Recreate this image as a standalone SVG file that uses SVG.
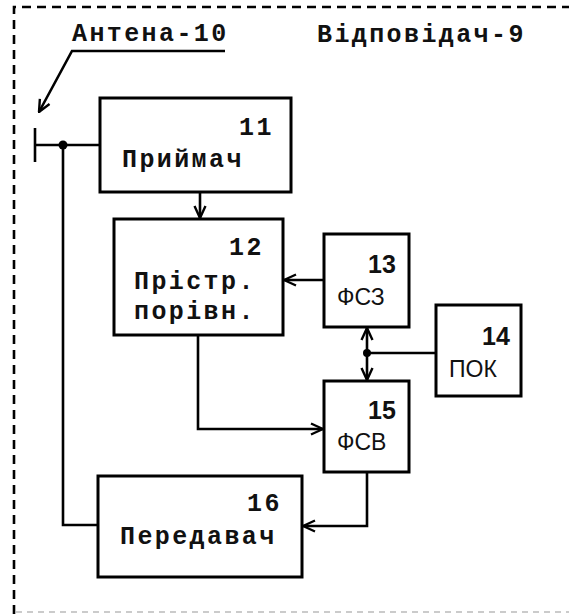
<svg xmlns="http://www.w3.org/2000/svg" width="569" height="614" viewBox="0 0 569 614">
<style>
.box{fill:#fff;stroke:#000;stroke-width:3}
.ln{fill:none;stroke:#000;stroke-width:2.6}
.mono{font-family:"Liberation Mono","DejaVu Sans Mono",monospace;font-weight:bold;font-size:25px;letter-spacing:2.4px;fill:#111}
.sans{font-family:"Liberation Sans",Arial,sans-serif;fill:#111}
.num{font-weight:bold;font-size:25px}
.lbl{font-size:23px}
</style>
<defs>
<marker id="ah" viewBox="0 0 14 14" refX="13" refY="7" markerWidth="14" markerHeight="14" markerUnits="userSpaceOnUse" orient="auto-start-reverse">
<path d="M1,1.5 L13,7 L1,12.5" fill="none" stroke="#000" stroke-width="2.4"/>
</marker>
</defs>
<g id="frame">
<path d="M14,614 L14,7 L569,7" fill="none" stroke="#000" stroke-width="2.6" stroke-dasharray="9 6"/>
<path d="M16,612 L569,612" fill="none" stroke="#bbb" stroke-width="1.5" stroke-dasharray="6 5"/>
<text class="mono" x="317" y="42">Відповідач-9</text>
</g>
<g id="antenna">
<text class="mono" x="72" y="41">Антена-10</text>
<path class="ln" d="M225,51 L72,51 L39,112" marker-end="url(#ah)"/>
<path class="ln" d="M35,128 L35,162" stroke-width="3"/>
</g>
<g id="connectors">
<path class="ln" d="M35,145 L100,145"/>
<circle cx="63" cy="145" r="4.5" fill="#000"/>
<path class="ln" d="M63,145 L63,525 L98,525"/>
<path class="ln" d="M200,192 L200,218" marker-end="url(#ah)"/>
<path class="ln" d="M324,280 L284,280" marker-end="url(#ah)"/>
<path class="ln" d="M367,328 L367,380" marker-start="url(#ah)" marker-end="url(#ah)"/>
<circle cx="367" cy="353" r="4" fill="#000"/>
<path class="ln" d="M367,353 L436,353"/>
<path class="ln" d="M198,335 L198,429 L323,429" marker-end="url(#ah)"/>
<path class="ln" d="M367,472 L367,526 L303,526" marker-end="url(#ah)"/>
</g>
<g id="n11">
<rect class="box" x="100" y="98" width="191" height="94"/>
<text class="mono" x="239" y="135">11</text>
<text class="mono" x="122" y="167">Приймач</text>
</g>
<g id="n12">
<rect class="box" x="114" y="219" width="169" height="116"/>
<text class="mono" x="229" y="255">12</text>
<text class="mono" x="134" y="289">Прістр.</text>
<text class="mono" x="134" y="319">порівн.</text>
</g>
<g id="n13">
<rect class="box" x="324" y="234" width="85" height="93"/>
<text class="sans num" x="368" y="273">13</text>
<text class="sans lbl" x="337" y="305">ФСЗ</text>
</g>
<g id="n14">
<rect class="box" x="436" y="305" width="85" height="91"/>
<text class="sans num" x="482" y="345">14</text>
<text class="sans lbl" x="449" y="377">ПОК</text>
</g>
<g id="n15">
<rect class="box" x="324" y="381" width="85" height="91"/>
<text class="sans num" x="368" y="419">15</text>
<text class="sans lbl" x="337" y="450">ФСВ</text>
</g>
<g id="n16">
<rect class="box" x="98" y="476" width="204" height="101"/>
<text class="mono" x="247" y="511">16</text>
<text class="mono" x="120" y="544">Передавач</text>
</g>
</svg>
